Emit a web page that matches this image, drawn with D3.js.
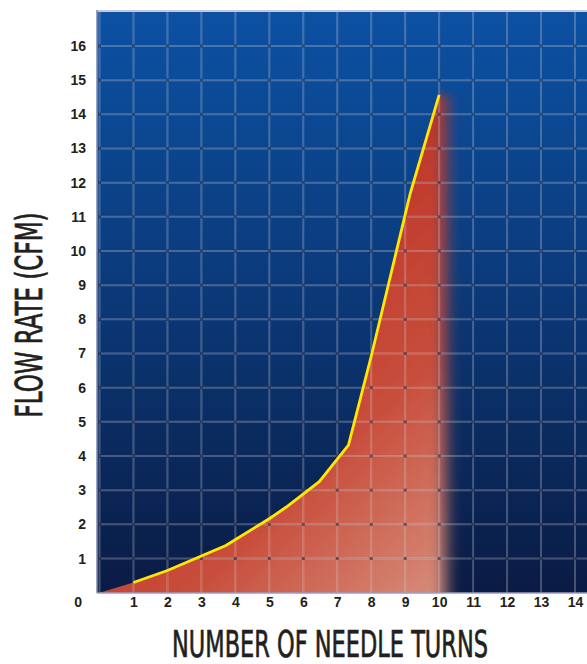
<!DOCTYPE html>
<html><head><meta charset="utf-8">
<script src="https://cdn.jsdelivr.net/npm/d3@7"></script>
<style>
html,body{margin:0;padding:0;background:#fff;}
svg{display:block;}
</style></head>
<body>
<svg id="chart" width="587" height="664"></svg>
<script>
// ---- data ----
const turns = [1, 2, 3.72, 5.02, 5.49, 6.47, 7.33, 8.02, 9.15, 10.0];
const flow  = [0.3, 0.65, 1.38, 2.18, 2.5, 3.25, 4.32, 7.0, 11.69, 14.57];
const xTicks = [1,2,3,4,5,6,7,8,9,10,11,12,13,14];
const yTicks = [1,2,3,4,5,6,7,8,9,10,11,12,13,14,15,16];
const originLabel = "0";
const xTitle = "NUMBER OF NEEDLE TURNS";
const yTitle = "FLOW RATE (CFM)";

const svg = d3.select("#chart");
const plot = {left: 97, right: 587, top: 12, bottom: 593};
const x = d3.scaleLinear().domain([0, 14]).range([99.5, 575]);
const y = d3.scaleLinear().domain([0, 17]).range([592.7, 11.8]);

const defs = svg.append("defs");
const bg = defs.append("linearGradient").attr("id","bg").attr("x1",0).attr("y1",0).attr("x2",0).attr("y2",1);
bg.append("stop").attr("offset","0%").attr("stop-color","#0c51a3");
bg.append("stop").attr("offset","45%").attr("stop-color","#0b3b7c");
bg.append("stop").attr("offset","100%").attr("stop-color","#0a1b44");

const redG = defs.append("linearGradient").attr("id","redG").attr("gradientUnits","userSpaceOnUse")
  .attr("x1", x(3)).attr("y1", y(7)).attr("x2", x(9.8)).attr("y2", y(0));
redG.append("stop").attr("offset","0%").attr("stop-color","#bf392b");
redG.append("stop").attr("offset","50%").attr("stop-color","#c84e3c");
redG.append("stop").attr("offset","100%").attr("stop-color","#d58a78");

defs.append("clipPath").attr("id","plotClip").append("rect")
  .attr("x", plot.left).attr("y", plot.top).attr("width", plot.right-plot.left).attr("height", plot.bottom-plot.top);

const blur = defs.append("filter").attr("id","soft").attr("x","-20%").attr("y","-20%").attr("width","140%").attr("height","140%");
blur.append("feGaussianBlur").attr("stdDeviation","8 4");

// clip region: right of / below the curve
const clipPts = [[-1,-1],[-1,0],[0,0]].concat(turns.map((t,i)=>[t,flow[i]]))
  .concat([[turns[turns.length-1], 18],[15,18],[15,-1]]);
defs.append("clipPath").attr("id","underCurve").append("path")
  .attr("d", d3.line().x(d=>x(d[0])).y(d=>y(d[1]))(clipPts) + "Z");

// background
svg.append("rect").attr("x", plot.left).attr("y", plot.top)
  .attr("width", plot.right-plot.left).attr("height", plot.bottom-plot.top).attr("fill","url(#bg)");

// red fill
const tEnd = turns[turns.length-1] + 0.2, fEnd = flow[flow.length-1];
svg.append("g").attr("clip-path","url(#plotClip)")
  .append("g").attr("clip-path","url(#underCurve)")
  .append("rect")
  .attr("x", x(-1)).attr("y", y(fEnd)).attr("width", x(tEnd)-x(-1)).attr("height", y(-1)-y(fEnd))
  .attr("fill","url(#redG)").attr("filter","url(#soft)");

// grid
const grid = svg.append("g").attr("clip-path","url(#plotClip)");
const vx = [0].concat(xTicks);
grid.selectAll("line.v").data(vx).join("line").attr("class","v")
  .attr("x1", d=>x(d)).attr("x2", d=>x(d)).attr("y1", plot.top).attr("y2", plot.bottom)
  .attr("stroke","rgba(255,255,255,0.27)").attr("stroke-width",2);
grid.selectAll("line.vd").data(vx).join("line").attr("class","vd")
  .attr("x1", d=>x(d)).attr("x2", d=>x(d)).attr("y1", plot.top).attr("y2", plot.bottom)
  .attr("stroke","rgba(0,10,40,0.22)").attr("stroke-width",0.6);
grid.selectAll("line.h").data(yTicks).join("line").attr("class","h")
  .attr("y1", d=>y(d)).attr("y2", d=>y(d)).attr("x1", plot.left).attr("x2", plot.right)
  .attr("stroke","rgba(255,255,255,0.27)").attr("stroke-width",2);
grid.selectAll("line.hd").data(yTicks).join("line").attr("class","hd")
  .attr("y1", d=>y(d)).attr("y2", d=>y(d)).attr("x1", plot.left).attr("x2", plot.right)
  .attr("stroke","rgba(0,10,40,0.22)").attr("stroke-width",0.6);
const cross = [];
vx.forEach(a=>yTicks.forEach(b=>cross.push([a,b])));
grid.selectAll("rect.dot").data(cross).join("rect").attr("class","dot")
  .attr("x", d=>x(d[0])-1.5).attr("y", d=>y(d[1])-1.5).attr("width",3).attr("height",3)
  .attr("fill","rgba(0,8,40,0.5)");

// line
svg.append("path").datum(turns.map((t,i)=>[t,flow[i]]))
  .attr("d", d3.line().x(d=>x(d[0])).y(d=>y(d[1])))
  .attr("fill","none").attr("stroke","#ffe800").attr("stroke-width",2.8)
  .attr("stroke-linejoin","miter");

// borders
svg.append("line").attr("x1", plot.left).attr("x2", plot.right).attr("y1", 11).attr("y2", 11)
  .attr("stroke","#c3c8da").attr("stroke-width",2);
svg.append("line").attr("x1", plot.left).attr("x2", plot.left).attr("y1", 10).attr("y2", plot.bottom)
  .attr("stroke","#7d86ad").attr("stroke-width",1.5);
svg.append("line").attr("x1", plot.left).attr("x2", plot.right).attr("y1", plot.bottom).attr("y2", plot.bottom)
  .attr("stroke","#9b9ec2").attr("stroke-width",1.6);

// axes
const tickFont = "'Liberation Sans', Arial, Helvetica, sans-serif";
const xa = svg.append("g").attr("transform",`translate(0,${y(0)})`)
  .call(d3.axisBottom(x).tickValues(xTicks).tickSize(0).tickPadding(4).tickFormat(d3.format("d")));
xa.select(".domain").remove();
xa.selectAll("text").attr("font-family", tickFont).attr("font-size",14).attr("font-weight","bold").attr("fill","#231f20");

const ya = svg.append("g").attr("transform",`translate(${x(0)},0)`)
  .call(d3.axisLeft(y).tickValues(yTicks).tickSize(0).tickPadding(13.5).tickFormat(d3.format("d")));
ya.select(".domain").remove();
ya.selectAll("text").attr("font-family", tickFont).attr("font-size",14).attr("font-weight","bold").attr("fill","#231f20");

svg.append("text").attr("x", x(0)-17.5).attr("y", y(0)+14).attr("text-anchor","end")
  .attr("font-family", tickFont).attr("font-size",14).attr("font-weight","bold").attr("fill","#231f20")
  .text(originLabel);

// titles
const titleFont = "'Liberation Sans Narrow', 'DejaVu Sans Condensed', 'Liberation Sans', sans-serif";
svg.append("text").attr("x", 330).attr("y", 657)
  .attr("text-anchor","middle").attr("font-family", titleFont).attr("font-size",37)
  .attr("fill","#231f20").attr("stroke","#231f20").attr("stroke-width",0.7)
  .attr("textLength",316).attr("lengthAdjust","spacingAndGlyphs")
  .text(xTitle);
svg.append("text").attr("transform","translate(42,315) rotate(-90)")
  .attr("text-anchor","middle").attr("font-family", titleFont).attr("font-size",38)
  .attr("fill","#231f20").attr("stroke","#231f20").attr("stroke-width",0.7)
  .attr("textLength",205).attr("lengthAdjust","spacingAndGlyphs")
  .text(yTitle);
</script>
</body></html>
